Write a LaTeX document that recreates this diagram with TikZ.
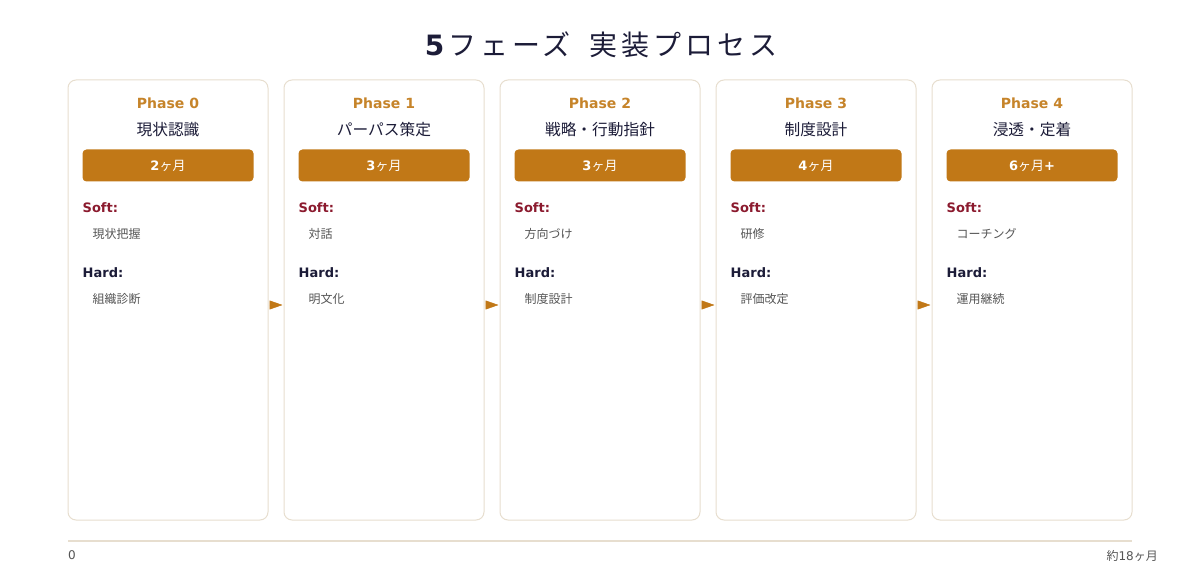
\documentclass[tikz,border=0pt]{standalone}
\usepackage{fontspec}
\setmainfont{DejaVu Sans}
\newfontfamily\jp{Noto Sans CJK JP}
\newfontfamily\jpwide{Noto Sans CJK JP}[LetterSpace=14]
\usetikzlibrary{arrows.meta,positioning}
\definecolor{ink}{HTML}{1C1C38}
\definecolor{accent}{HTML}{C17817}
\definecolor{phasecol}{HTML}{C6842A}
\definecolor{softcol}{HTML}{8B1A2E}
\definecolor{itemcol}{HTML}{555555}
\definecolor{rulecol}{HTML}{E7DECF}
\tikzset{
  card/.style={draw=rulecol,line width=1pt,rounded corners=8pt,fill=white,
    minimum width=200pt,minimum height=440pt,inner sep=0pt},
  phase/.style={text=phasecol,font=\fontsize{14}{16}\selectfont\bfseries,inner sep=0pt},
  phname/.style={text=ink,font=\fontsize{15.7}{17}\selectfont\jp,inner sep=0pt},
  dur/.style={fill=accent,rounded corners=4pt,minimum width=171pt,minimum height=32pt,
    text=white,font=\fontsize{13}{15}\selectfont,inner sep=0pt},
  soft/.style={text=softcol,font=\fontsize{13}{15}\selectfont\bfseries,anchor=west,inner sep=0pt},
  hard/.style={text=ink,font=\fontsize{13}{15}\selectfont\bfseries,anchor=west,inner sep=0pt},
  item/.style={text=itemcol,font=\fontsize{12}{14}\selectfont\jp,anchor=west,inner sep=0pt},
  flow/.style={draw=accent,line width=0.5pt,shorten <=2pt,shorten >=1pt,
    -{Triangle[length=13pt,width=9pt]},fill=accent},
  ticklabel/.style={text=itemcol,font=\fontsize{12}{14}\selectfont,inner sep=0pt}
}
\begin{document}
\begin{tikzpicture}[x=1pt,y=-1pt]
  \useasboundingbox (0,0) rectangle (1200,580);
  \node[text=ink,font=\fontsize{28}{32}\selectfont] (head) at (601,45)
    {{\bfseries 5}\hspace{4pt}{\jpwide フェーズ\hspace{0.68em}実装プロセス}};
  \foreach \i/\ttl/\num/\extra/\sft/\hrd in {
      0/現状認識/2//現状把握/組織診断,
      1/パーパス策定/3//対話/明文化,
      2/戦略・行動指針/3//方向づけ/制度設計,
      3/制度設計/4//研修/評価改定,
      4/浸透・定着/6/+/コーチング/運用継続}{
    \node[card] (c\i) at ({168+216*\i},300) {};
    \node[phase] (ph\i) at ([yshift=-24pt]c\i.north) {Phase \i};
    \node[phname] (nm\i) at ([yshift=-50pt]c\i.north) {\ttl};
    \node[dur] (d\i) at ([yshift=-86pt]c\i.north) {{\bfseries\num}{\jp ヶ月}{\bfseries\extra}};
    \node[soft] (s\i) at ([xshift=15pt,yshift=-128pt]c\i.north west) {Soft:};
    \node[item] (si\i) at ([xshift=25pt,yshift=-154pt]c\i.north west) {\sft};
    \node[hard] (h\i) at ([xshift=15pt,yshift=-193pt]c\i.north west) {Hard:};
    \node[item] (hi\i) at ([xshift=25pt,yshift=-219pt]c\i.north west) {\hrd};
  }
  % arrows between phases
  \foreach \i [evaluate=\i as \j using int(\i+1)] in {0,...,3}
    \draw[flow] ([yshift=-5pt]c\i.east) -- ([yshift=-5pt]c\j.west);
  % timeline
  \coordinate (t0) at (68,541);
  \coordinate (t1) at (1132,541);
  \draw[rulecol,line width=2pt] (t0) -- (t1);
  \node[ticklabel,anchor=north west] (start) at ([yshift=-9pt]t0) {0};
  \node[ticklabel,anchor=north east] (end) at ([xshift=26pt,yshift=-9pt]t1) {{\jp 約}18{\jp ヶ月}};
\end{tikzpicture}
\end{document}
